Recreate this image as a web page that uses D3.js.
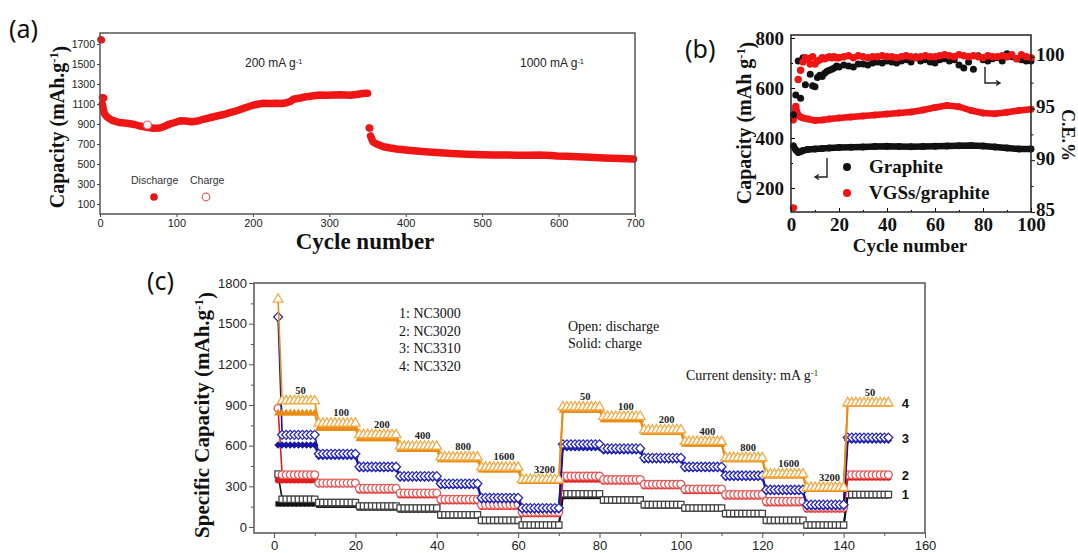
<!DOCTYPE html>
<html>
<head>
<meta charset="utf-8">
<script src="https://cdn.jsdelivr.net/npm/d3@7"></script>
<style>
  body { margin: 0; background: #fff; }
</style>
</head>
<body>
<div id="container"></div>
<script>
// ---------- (a) long-term cycling, 200 then 1000 mA g-1 ----------
const aSpikeCycles = [1, 2, 3, 4, 5, 352, 353];
const aSpikeValues = [1745, 1740, 1165, 1162, 1160, 862, 858];
const aBand1Cycles = [3, 5, 7, 9, 13, 17, 25, 35, 45, 52, 62, 70, 78, 85, 91, 98, 105, 112, 120, 128, 135, 145, 153, 162, 170, 180, 188, 195, 201, 208, 214, 222, 231, 238, 244, 249, 253, 262, 270, 280, 288, 296, 305, 315, 327, 335, 344, 350];
const aBand1Values = [1100, 1020, 990, 973, 950, 933, 915, 907, 895, 880, 868, 857, 860, 878, 900, 915, 933, 930, 923, 930, 947, 965, 980, 995, 1013, 1035, 1057, 1075, 1090, 1100, 1107, 1105, 1107, 1105, 1113, 1125, 1147, 1160, 1173, 1182, 1190, 1188, 1190, 1192, 1187, 1195, 1205, 1207];
const aBand2Cycles = [354, 357, 362, 371, 380, 388, 400, 414, 430, 445, 460, 480, 500, 515, 530, 545, 559, 575, 590, 598, 610, 625, 641, 660, 680, 698];
const aBand2Values = [780, 723, 700, 673, 660, 650, 640, 630, 620, 613, 605, 597, 592, 590, 590, 588, 587, 590, 585, 580, 578, 572, 567, 560, 555, 550];
const aChargeCycles = [62];
const aChargeValues = [890];

// ---------- (b) graphite vs VGSs/graphite ----------
const bCapCycles = [1, 2, 3, 4, 5, 7, 10, 13, 16, 20, 25, 30, 35, 40, 45, 50, 55, 60, 65, 70, 75, 80, 85, 90, 95, 100];
const graphiteCap = [368, 352, 342, 345, 350, 354, 356, 358, 360, 362, 363, 364, 366, 367, 366, 365, 366, 367, 368, 369, 370, 368, 364, 360, 356, 356];
const vgsCap = [472, 522, 492, 484, 480, 476, 470, 472, 476, 480, 484, 488, 492, 496, 500, 504, 512, 522, 530, 525, 510, 500, 497, 503, 510, 515];
const bCeCycles = [1, 2, 3, 4, 5, 6, 7, 8, 9, 10, 11, 12, 13, 14, 15, 16, 17, 18, 19, 20,
  22, 24, 26, 28, 30, 32, 34, 36, 38, 40, 42, 44, 46, 48, 50, 52, 54, 56, 58, 60,
  62, 64, 66, 68, 70, 72, 74, 76, 78, 80, 82, 84, 86, 88, 90, 92, 94, 96, 98, 100];
const graphiteCE = [94.4, 96.3, 99.6, 96.0, 99.9, 97.3, 99.8, 98.3, 97.2, 97.1, 98.0, 98.2, 98.1, 98.4, 98.6, 98.7, 98.8, 98.9, 99.1, 99.0,
  99.2, 99.1, 99.0, 99.3, 99.3, 99.2, 99.4, 99.5, 99.4, 99.6, 99.5, 99.4, 99.6, 99.7, 99.5, 100.0, 99.6, 99.7, 99.5, 99.4,
  99.7, 99.8, 99.6, 99.7, 99.2, 98.9, 99.5, 98.8, 100.1, 99.7, 99.6, 99.8, 99.9, 99.6, 100.3, 100.0, 99.8, 99.7, 99.6, 99.6];
const vgsCE = [85.4, 95.2, 97.8, 98.7, 99.5, 99.9, 99.8, 99.3, 100.0, 99.3, 99.6, 99.7, 99.9, 99.8, 99.9, 100.0, 99.9, 100.0, 99.9, 99.9,
  100.0, 100.1, 99.9, 100.1, 100.0, 99.9, 100.0, 100.0, 100.1, 100.0, 100.0, 99.9, 100.0, 100.1, 100.0, 99.9, 100.0, 100.1, 100.0, 100.0,
  100.1, 100.2, 100.1, 100.0, 100.2, 100.1, 100.0, 100.1, 100.0, 99.9, 100.1, 100.0, 100.0, 100.1, 100.0, 100.2, 99.8, 100.2, 100.0, 99.9];

// ---------- (c) rate capability, 10 cycles per step ----------
const rateSteps = ["50", "100", "200", "400", "800", "1600", "3200", "50", "100", "200", "400", "800", "1600", "3200", "50"];
const sampleNames = ["1: NC3000", "2: NC3020", "3: NC3310", "4: NC3320"];
const firstDischarge = [390, 875, 1550, 1680];
const nc3000Discharge = [205, 180, 155, 140, 90, 50, 15, 245, 200, 165, 140, 100, 50, 15, 240];
const nc3000Charge = [170, 160, 140, 125, 80, 40, 5, 225, 190, 155, 130, 90, 40, 5, 230];
const nc3020Discharge = [385, 325, 285, 250, 205, 165, 110, 375, 350, 315, 280, 240, 190, 145, 385];
const nc3020Charge = [345, 315, 270, 235, 190, 150, 95, 350, 335, 300, 265, 225, 175, 130, 365];
const nc3310Discharge = [680, 540, 445, 375, 320, 215, 140, 610, 580, 510, 445, 380, 275, 165, 660];
const nc3310Charge = [605, 520, 430, 360, 305, 200, 125, 585, 560, 495, 430, 365, 260, 150, 640];
const nc3320Discharge = [930, 765, 680, 595, 515, 440, 350, 885, 815, 715, 630, 510, 390, 290, 915];
const nc3320Charge = [840, 725, 650, 570, 495, 420, 335, 860, 790, 695, 610, 495, 375, 275, 905];

const serif = '"Liberation Serif", "Times New Roman", serif';
const sans = '"Liberation Sans", Arial, sans-serif';
const narrow = '"Liberation Sans Narrow", "Liberation Sans", Arial, sans-serif';
const letterFont = '"Noto Sans", "Open Sans", sans-serif';
const plain = d3.format('d');

const svg = d3.select('#container').append('svg')
  .attr('width', 1078)
  .attr('height', 553);

// helper: text with a superscript "-1" part
function supText(g, before, sup, after) {
  g.append('tspan').text(before);
  g.append('tspan').attr('dy', '-0.45em').attr('font-size', '62%').text(sup);
  g.append('tspan').attr('dy', '0.45em').text(after);
}

// ================= panel (a) =================
{
  const box = { left: 100, right: 635, top: 33, bottom: 214 };
  const x = d3.scaleLinear().domain([0, 700]).range([box.left, box.right]);
  const y = d3.scaleLinear().domain([0, 1810]).range([box.bottom, box.top]);
  const g = svg.append('g');

  g.append('g')
    .attr('transform', `translate(0,${box.bottom})`)
    .call(d3.axisBottom(x).tickValues(d3.range(0, 701, 100)).tickFormat(plain).tickSize(3).tickPadding(2))
    .call(a => a.select('.domain').remove())
    .attr('font-family', narrow).attr('font-size', 11);

  g.append('g')
    .attr('transform', `translate(${box.left},0)`)
    .call(d3.axisLeft(y).tickValues(d3.range(100, 1701, 200)).tickFormat(plain).tickSize(3).tickPadding(2))
    .call(a => a.select('.domain').remove())
    .attr('font-family', narrow).attr('font-size', 10.5);

  g.selectAll('.tick line').attr('stroke', '#444');
  g.selectAll('.tick text').attr('fill', '#222');

  const line = d3.line().x(d => x(d[0])).y(d => y(d[1]));
  [[aBand1Cycles, aBand1Values], [aBand2Cycles, aBand2Values]].forEach(([cs, vs]) => {
    g.append('path')
      .datum(cs.map((c, i) => [c, vs[i]]))
      .attr('d', line)
      .attr('fill', 'none')
      .attr('stroke', '#f01515')
      .attr('stroke-width', 7.5)
      .attr('stroke-linecap', 'round')
      .attr('stroke-linejoin', 'round');
  });
  g.selectAll('.spike')
    .data(aSpikeCycles.map((c, i) => [c, aSpikeValues[i]]))
    .enter().append('circle')
    .attr('cx', d => x(d[0])).attr('cy', d => y(d[1])).attr('r', 3.6)
    .attr('fill', '#f01515');
  g.selectAll('.chg')
    .data(aChargeCycles.map((c, i) => [c, aChargeValues[i]]))
    .enter().append('circle')
    .attr('cx', d => x(d[0])).attr('cy', d => y(d[1])).attr('r', 4)
    .attr('fill', '#fff').attr('stroke', '#e85a5a').attr('stroke-width', 1.2);

  g.append('rect')
    .attr('x', box.left).attr('y', box.top)
    .attr('width', box.right - box.left).attr('height', box.bottom - box.top)
    .attr('fill', 'none').attr('stroke', '#555').attr('stroke-width', 1.5);

  // legend
  g.append('text').attr('x', 131).attr('y', 184).attr('font-family', sans).attr('font-size', 10.5).attr('fill', '#333').text('Discharge');
  g.append('text').attr('x', 190).attr('y', 184).attr('font-family', sans).attr('font-size', 10.5).attr('fill', '#333').text('Charge');
  g.append('circle').attr('cx', 154).attr('cy', 197).attr('r', 3.8).attr('fill', '#e81515');
  g.append('circle').attr('cx', 206).attr('cy', 197).attr('r', 3.8).attr('fill', '#fff').attr('stroke', '#e85a5a').attr('stroke-width', 1.2);

  const t1 = g.append('text').attr('x', 245).attr('y', 67).attr('font-family', sans).attr('font-size', 12).attr('fill', '#222');
  supText(t1, '200 mA g', '-1', '');
  const t2 = g.append('text').attr('x', 520).attr('y', 67).attr('font-family', sans).attr('font-size', 12).attr('fill', '#222');
  supText(t2, '1000 mA g', '-1', '');

  const yt = g.append('text')
    .attr('transform', 'translate(64,127) rotate(-90)')
    .attr('text-anchor', 'middle')
    .attr('font-family', serif).attr('font-weight', 'bold').attr('font-size', 20).attr('fill', '#111');
  supText(yt, 'Capacity (mAh.g', '-1', ')');

  g.append('text').attr('x', 365).attr('y', 249).attr('text-anchor', 'middle')
    .attr('font-family', serif).attr('font-weight', 'bold').attr('font-size', 23).attr('fill', '#111')
    .text('Cycle number');

  g.append('text').attr('x', 9).attr('y', 38)
    .attr('font-family', letterFont).attr('font-size', 25).attr('fill', '#111').text('(a)');
}

// ================= panel (b) =================
{
  const box = { left: 791, right: 1031, top: 35, bottom: 212 };
  const x = d3.scaleLinear().domain([0, 100]).range([box.left, box.right]);
  const yCap = d3.scaleLinear().domain([104, 812]).range([box.bottom, box.top]);
  const yCe = d3.scaleLinear().domain([85, 102.1]).range([box.bottom, box.top]);
  const g = svg.append('g');

  const dots = (cs, vs, scale, color, r) => {
    g.append('g').selectAll('circle')
      .data(cs.map((c, i) => [c, vs[i]]))
      .enter().append('circle')
      .attr('cx', d => x(d[0])).attr('cy', d => scale(d[1])).attr('r', r)
      .attr('fill', color);
  };
  const band = (cs, vs, scale, color) => {
    g.append('path')
      .datum(cs.map((c, i) => [c, vs[i]]))
      .attr('d', d3.line().x(d => x(d[0])).y(d => scale(d[1])))
      .attr('fill', 'none').attr('stroke', color).attr('stroke-width', 6.5)
      .attr('stroke-linecap', 'round').attr('stroke-linejoin', 'round');
  };

  band(bCapCycles, graphiteCap, yCap, '#111');
  dots(bCapCycles, graphiteCap, yCap, '#111', 3.4);
  band(bCapCycles, vgsCap, yCap, '#f01515');
  dots(bCapCycles, vgsCap, yCap, '#f01515', 3.4);
  dots(bCeCycles, graphiteCE, yCe, '#111', 3.5);
  dots(bCeCycles, vgsCE, yCe, '#f01515', 3.7);

  const fontAxis = a => a.attr('font-family', serif).attr('font-weight', 'bold').attr('font-size', 19);
  g.append('g').attr('transform', `translate(0,${box.bottom})`)
    .call(d3.axisBottom(x).tickValues(d3.range(0, 101, 20)).tickSize(-4).tickPadding(6))
    .call(fontAxis);
  g.append('g').attr('transform', `translate(0,${box.bottom})`)
    .call(d3.axisBottom(x).tickValues(d3.range(10, 100, 20)).tickSize(-2).tickFormat(''));
  g.append('g').attr('transform', `translate(${box.left},0)`)
    .call(d3.axisLeft(yCap).tickValues(d3.range(200, 801, 200)).tickSize(-4).tickPadding(7))
    .call(fontAxis);
  g.append('g').attr('transform', `translate(${box.left},0)`)
    .call(d3.axisLeft(yCap).tickValues(d3.range(300, 801, 200)).tickSize(-2).tickFormat(''));
  g.append('g').attr('transform', `translate(${box.right},0)`)
    .call(d3.axisRight(yCe).tickValues(d3.range(85, 101, 5)).tickSize(4).tickPadding(1))
    .call(fontAxis)
    .call(a => a.selectAll('text').attr('dy', '0.2em'));
  g.append('g').attr('transform', `translate(${box.right},0)`)
    .call(d3.axisRight(yCe).tickValues([87.5, 92.5, 97.5]).tickSize(2.5).tickFormat(''));
  g.selectAll('.domain').remove();
  g.selectAll('.tick text').attr('fill', '#111');

  g.append('rect')
    .attr('x', box.left).attr('y', box.top)
    .attr('width', box.right - box.left).attr('height', box.bottom - box.top)
    .attr('fill', 'none').attr('stroke', '#222').attr('stroke-width', 1.5);

  // pointer marks
  g.append('path').attr('d', 'M827,158 V177 H816 M819,174.5 L815,177 L819,179.5')
    .attr('fill', 'none').attr('stroke', '#222').attr('stroke-width', 1.4);
  g.append('path').attr('d', 'M985,67 V83 H999 M996,80.5 L1000,83 L996,85.5')
    .attr('fill', 'none').attr('stroke', '#222').attr('stroke-width', 1.4);

  // legend
  g.append('circle').attr('cx', 847).attr('cy', 167).attr('r', 4).attr('fill', '#111');
  g.append('circle').attr('cx', 847).attr('cy', 193).attr('r', 4).attr('fill', '#f01515');
  g.append('text').attr('x', 869).attr('y', 173).attr('font-family', serif).attr('font-weight', 'bold').attr('font-size', 19).attr('fill', '#111').text('Graphite');
  g.append('text').attr('x', 869).attr('y', 199).attr('font-family', serif).attr('font-weight', 'bold').attr('font-size', 19).attr('fill', '#111').text('VGSs/graphite');

  const yt = g.append('text')
    .attr('transform', 'translate(751,123) rotate(-90)')
    .attr('text-anchor', 'middle')
    .attr('font-family', serif).attr('font-weight', 'bold').attr('font-size', 20).attr('fill', '#111');
  supText(yt, 'Capacity (mAh g', '-1', ')');

  g.append('text')
    .attr('transform', 'translate(1062,135) rotate(90)')
    .attr('text-anchor', 'middle')
    .attr('font-family', serif).attr('font-weight', 'bold').attr('font-size', 18).attr('fill', '#111')
    .text('C.E.%');

  g.append('text').attr('x', 910).attr('y', 252).attr('text-anchor', 'middle')
    .attr('font-family', serif).attr('font-weight', 'bold').attr('font-size', 19).attr('fill', '#111')
    .text('Cycle number');

  g.append('text').attr('x', 685).attr('y', 58)
    .attr('font-family', letterFont).attr('font-size', 25).attr('fill', '#111').text('(b)');
}

// ================= panel (c) =================
{
  const box = { left: 254, right: 925, top: 283, bottom: 533 };
  const x = d3.scaleLinear().domain([0, 160]).range([274, box.right]);
  const y = d3.scaleLinear().domain([0, 1800]).range([527, box.top]);
  const g = svg.append('g');
  const lastCycle = 151;

  g.append('g').attr('transform', `translate(0,${box.bottom})`)
    .call(d3.axisBottom(x).tickValues(d3.range(0, 161, 20)).tickSize(5).tickPadding(3))
    .attr('font-family', sans).attr('font-size', 13);
  g.append('g').attr('transform', `translate(0,${box.bottom})`)
    .call(d3.axisBottom(x).tickValues(d3.range(10, 160, 20)).tickSize(3).tickFormat(''));
  g.append('g').attr('transform', `translate(${box.left},0)`)
    .call(d3.axisLeft(y).tickValues(d3.range(0, 1801, 300)).tickFormat(plain).tickSize(5).tickPadding(2))
    .attr('font-family', sans).attr('font-size', 13);
  g.append('g').attr('transform', `translate(${box.left},0)`)
    .call(d3.axisLeft(y).tickValues(d3.range(150, 1800, 300)).tickSize(3).tickFormat(''));
  g.selectAll('.domain').remove();
  g.selectAll('.tick line').attr('stroke', '#555');
  g.selectAll('.tick text').attr('fill', '#222');

  g.append('rect')
    .attr('x', box.left).attr('y', box.top)
    .attr('width', box.right - box.left).attr('height', box.bottom - box.top)
    .attr('fill', 'none').attr('stroke', '#555').attr('stroke-width', 1.5);

  const samples = [
    { dis: nc3000Discharge, chg: nc3000Charge, first: firstDischarge[0], sym: d3.symbolSquare, size: 40, rot: 0, open: '#444', solid: '#111', label: '1' },
    { dis: nc3020Discharge, chg: nc3020Charge, first: firstDischarge[1], sym: d3.symbolCircle, size: 48, rot: 0, open: '#e35a5a', solid: '#e01e1e', label: '2' },
    { dis: nc3310Discharge, chg: nc3310Charge, first: firstDischarge[2], sym: d3.symbolSquare, size: 40, rot: 45, open: '#2a2ab8', solid: '#1414a8', label: '3' },
    { dis: nc3320Discharge, chg: nc3320Charge, first: firstDischarge[3], sym: d3.symbolTriangle, size: 40, rot: 0, open: '#f2aa45', solid: '#ea8c12', label: '4' }
  ];
  const cycles = d3.range(1, lastCycle + 1);
  const stepOf = c => Math.min(Math.floor((c - 1) / 10), rateSteps.length - 1);
  const line = d3.line().x(d => x(d[0])).y(d => y(d[1]));

  samples.forEach(s => {
    const chg = cycles.map(c => [c, s.chg[stepOf(c)]]);
    const dis = cycles.map(c => [c, c === 1 ? s.first : s.dis[stepOf(c)]]);
    g.append('path').datum(chg).attr('d', line)
      .attr('fill', 'none').attr('stroke', s.solid).attr('stroke-width', 2);
    g.append('g').selectAll('path').data(chg).enter().append('path')
      .attr('transform', d => `translate(${x(d[0])},${y(d[1])}) rotate(${s.rot})`)
      .attr('d', d3.symbol().type(s.sym).size(s.size * 0.7))
      .attr('fill', s.solid);
    g.append('path').datum(dis).attr('d', line)
      .attr('fill', 'none').attr('stroke', s.solid).attr('stroke-width', 1.6);
    g.append('g').selectAll('path').data(dis).enter().append('path')
      .attr('transform', d => `translate(${x(d[0])},${y(d[1])}) rotate(${s.rot})`)
      .attr('d', d3.symbol().type(s.sym).size(s.size))
      .attr('fill', '#fff').attr('stroke', s.open).attr('stroke-width', 1.3);
    // series number at the right end
    g.append('text')
      .attr('x', x(lastCycle) + 17).attr('y', y(s.dis[s.dis.length - 1]) + 5)
      .attr('text-anchor', 'middle')
      .attr('font-family', sans).attr('font-weight', 'bold').attr('font-size', 13).attr('fill', '#111')
      .text(s.label);
  });

  // current density of each step, above the NC3320 curve
  g.selectAll('.rate').data(rateSteps).enter().append('text')
    .attr('x', (d, i) => x(i * 10 + 6.5))
    .attr('y', (d, i) => y(nc3320Discharge[i]) - 7)
    .attr('text-anchor', 'middle')
    .attr('font-family', serif).attr('font-weight', 'bold').attr('font-size', 10.5).attr('fill', '#222')
    .text(d => d);

  g.selectAll('.name').data(sampleNames).enter().append('text')
    .attr('x', 399).attr('y', (d, i) => 318 + i * 17.7)
    .attr('font-family', serif).attr('font-size', 14).attr('fill', '#111')
    .text(d => d);
  g.append('text').attr('x', 568).attr('y', 331).attr('font-family', serif).attr('font-size', 14).attr('fill', '#111').text('Open: discharge');
  g.append('text').attr('x', 568).attr('y', 348).attr('font-family', serif).attr('font-size', 14).attr('fill', '#111').text('Solid: charge');
  const cd = g.append('text').attr('x', 686).attr('y', 380).attr('font-family', serif).attr('font-size', 14).attr('fill', '#111');
  supText(cd, 'Current density: mA g', '-1', '');

  const yt = g.append('text')
    .attr('transform', 'translate(209,415) rotate(-90)')
    .attr('text-anchor', 'middle')
    .attr('font-family', serif).attr('font-weight', 'bold').attr('font-size', 21).attr('fill', '#111');
  supText(yt, 'Specific Capacity (mAh.g', '-1', ')');

  g.append('text').attr('x', 147).attr('y', 290)
    .attr('font-family', letterFont).attr('font-size', 25).attr('fill', '#111').text('(c)');
}
</script>
</body>
</html>
